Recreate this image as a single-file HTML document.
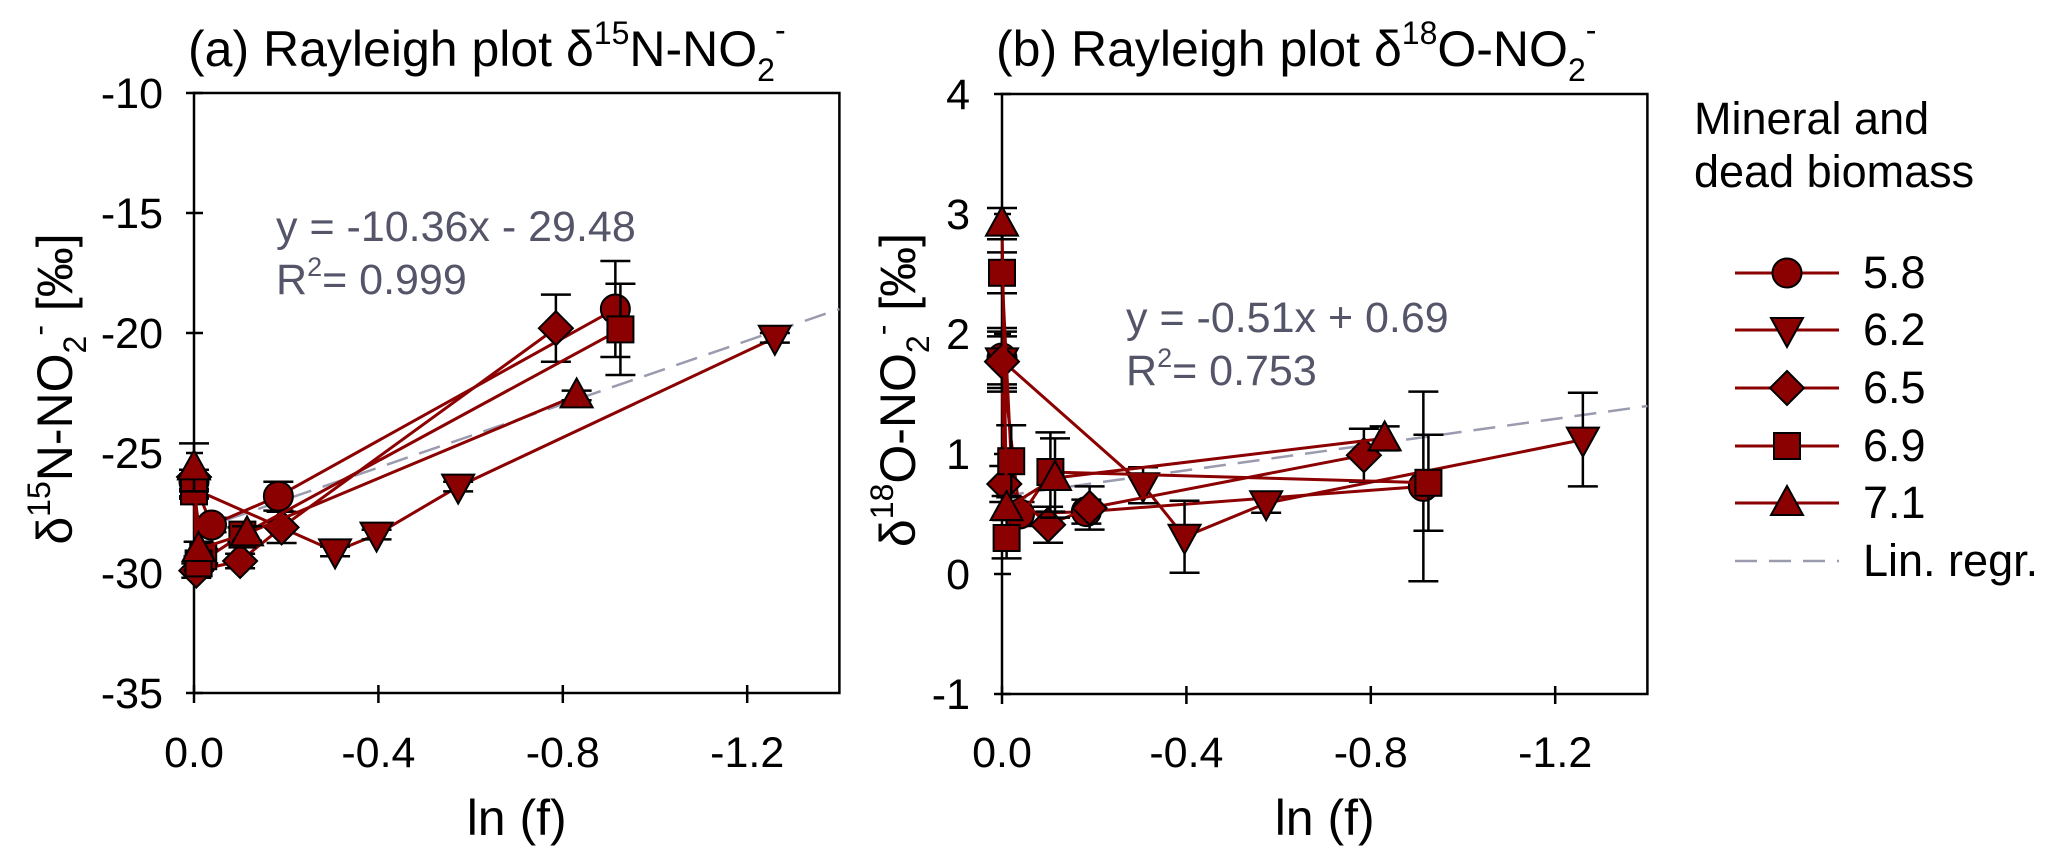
<!DOCTYPE html>
<html><head><meta charset="utf-8"><style>
html,body{margin:0;padding:0;background:#fff;}
svg{display:block;font-family:"Liberation Sans",Arial,sans-serif;}
</style></head><body>
<svg id="chart" width="2064" height="860" viewBox="0 0 2064 860" xmlns="http://www.w3.org/2000/svg">
<g id="pa"></g>
<g id="pb"></g>
<g id="legend"></g>
</svg>
<script>
// shared data
const seriesNames = ["5.8","6.2","6.5","6.9","7.1"];
const markerTypes = ["circle","tridown","diamond","square","triup"];
const ln58 = [0,-0.038,-0.183,-0.914];
const ln62 = [0,-0.306,-0.396,-0.573,-1.26];
const ln65 = [0,-0.005,-0.1,-0.19,-0.785];
const ln69 = [0,-0.02,-0.01,-0.105,-0.925];
const ln71 = [0,-0.01,-0.115,-0.83];
// panel a δ15N
const n58 = [-26.2,-28.0,-26.8,-19.0];
const n62 = [-26.5,-29.1,-28.4,-26.4,-20.2];
const n65 = [-26.0,-29.9,-29.5,-28.1,-19.8];
const n69 = [-26.6,-29.3,-29.6,-28.4,-19.85];
const n71 = [-25.6,-29.0,-28.35,-22.6];
const ne58 = [0.3,0.3,0.6,2.0];
const ne62 = [0.3,0.2,0.2,0.2,0.2];
const ne65 = [0.3,0.3,0.3,0.65,1.4];
const ne69 = [0.3,0.3,0.3,0.3,1.9];
const ne71 = [1.0,0.3,0.3,0.2];
// panel b δ18O
const o58 = [1.80,0.50,0.52,0.73];
const o62 = [1.78,0.74,0.31,0.59,1.12];
const o65 = [1.77,0.75,0.41,0.55,0.99];
const o69 = [2.51,0.94,0.30,0.85,0.76];
const o71 = [2.92,0.55,0.80,1.13];
const oe58 = [0.25,0.1,0.1,0.79];
const oe62 = [0.2,0.15,0.3,0.08,0.39];
const oe65 = [0.25,0.15,0.15,0.18,0.22];
const oe69 = [0.17,0.3,0.17,0.33,0.4];
const oe71 = [0.13,0.1,0.33,0.1];
const xTicks = [0,-0.4,-0.8,-1.2];
const xTickLabels = ["0.0","-0.4","-0.8","-1.2"];
const yTicksA = [-10,-15,-20,-25,-30,-35];
const yTicksB = [4,3,2,1,0,-1];
const regA = [[0,-28.25],[-1.4,-19.0]];
const regB = [[0,0.65],[-1.4,1.40]];

const NS="http://www.w3.org/2000/svg";
function mk(parent,tag,attrs){const e=document.createElementNS(NS,tag);for(const k in attrs)e.setAttribute(k,attrs[k]);parent.appendChild(e);return e;}
const RED="#8b0000";

function marker(g,type,cx,cy){
  let e;
  if(type==="circle"){e=mk(g,"circle",{cx:cx,cy:cy,r:14.5});}
  else if(type==="square"){e=mk(g,"rect",{x:cx-13,y:cy-13,width:26,height:26});}
  else if(type==="diamond"){e=mk(g,"polygon",{points:`${cx},${cy-17} ${cx+17},${cy} ${cx},${cy+17} ${cx-17},${cy}`});}
  else if(type==="triup"){e=mk(g,"polygon",{points:`${cx},${cy-17} ${cx+16},${cy+12} ${cx-16},${cy+12}`});}
  else {e=mk(g,"polygon",{points:`${cx},${cy+17} ${cx+16},${cy-12} ${cx-16},${cy-12}`});}
  e.setAttribute("fill",RED);e.setAttribute("stroke","#000");e.setAttribute("stroke-width","2");
  
  
  return e;
}

function drawPanel(gid,x0,yTop,yBot,yMax,yMin,yTicks,lnArr,valArr,errArr,reg,title,titleSup,ytitle,ytitleSup,eqn,r2,eqX,eqY,ytitleX,tickRight){
  const g=document.getElementById(gid);
  const ppu=461;
  const X=v=>x0-v*ppu;
  const Y=v=>yTop+(yMax-v)/(yMax-yMin)*(yBot-yTop);
  const xR=X(-1.4);
  const fr=mk(g,"rect",{x:x0,y:yTop,width:xR-x0,height:yBot-yTop,fill:"none",stroke:"#000","stroke-width":2.5});
  
  yTicks.forEach(t=>{
    const l=mk(g,"line",{x1:x0-8,x2:x0+9,y1:Y(t),y2:Y(t),stroke:"#000","stroke-width":2.5});
    
    const tx=mk(g,"text",{x:tickRight,y:Y(t)+15,"text-anchor":"end","font-size":43});
    tx.textContent=String(t);
    
  });
  xTicks.forEach((t,i)=>{
    const l=mk(g,"line",{x1:X(t),x2:X(t),y1:yBot-8,y2:yBot+10,stroke:"#000","stroke-width":2.5});
    
    const tx=mk(g,"text",{x:X(t),y:767,"text-anchor":"middle","font-size":43});
    tx.textContent=xTickLabels[i];
    
  });
  const xt=mk(g,"text",{x:(x0+xR)/2,y:835,"text-anchor":"middle","font-size":50});
  xt.textContent="ln (f)";
  
  const tt=mk(g,"text",{x:x0-6,y:66,"font-size":50});
  
  tt.innerHTML=title[0]+'<tspan font-size="32" dy="-22">'+titleSup+'</tspan><tspan dy="22">'+title[1]+'</tspan><tspan font-size="32" dy="15">2</tspan><tspan font-size="32" dy="-40">-</tspan>';
  const yt=mk(g,"text",{x:0,y:0,"font-size":50,"text-anchor":"middle",transform:`translate(${ytitleX},${(yTop+yBot)/2-4}) rotate(-90)`});
  
  yt.innerHTML='δ<tspan font-size="32" dy="-22">'+ytitleSup+'</tspan><tspan dy="22">'+ytitle+'</tspan><tspan font-size="32" dy="14">2</tspan><tspan font-size="32" dy="-36">-</tspan><tspan dy="22"> [‰]</tspan>';
  const rl=mk(g,"line",{x1:X(reg[0][0]),y1:Y(reg[0][1]),x2:X(reg[1][0]),y2:Y(reg[1][1]),stroke:"#9b9bb0","stroke-width":2.5,"stroke-dasharray":"22,12"});
  
  const e1=mk(g,"text",{x:eqX,y:eqY,"font-size":43,fill:"#55556a"});
  e1.textContent=eqn;
  const e2=mk(g,"text",{x:eqX,y:eqY+53,"font-size":43,fill:"#55556a"});
  e2.innerHTML='R<tspan font-size="27" dy="-18">2</tspan><tspan dy="18">= '+r2+'</tspan>';
  
  seriesNames.forEach((nm,si)=>{
    const sg=mk(g,"g",{});
    
    const ln=lnArr[si],v=valArr[si],er=errArr[si];
    const pts=ln.map((x,i)=>X(x)+","+Y(v[i])).join(" ");
    const pl=mk(sg,"polyline",{points:pts,fill:"none",stroke:RED,"stroke-width":3});
    
    ln.forEach((x,i)=>{
      const cx=X(x),t=Y(v[i]+er[i]),b=Y(v[i]-er[i]);
      const eb=mk(sg,"path",{d:`M${cx},${t}V${b}M${cx-15},${t}H${cx+15}M${cx-15},${b}H${cx+15}`,stroke:"#000","stroke-width":2.5,fill:"none"});
      
    });
    ln.forEach((x,i)=>marker(sg,markerTypes[si],X(x),Y(v[i])));
  });
}
const lnAll=[ln58,ln62,ln65,ln69,ln71];
drawPanel("pa",194,93,693,-10,-35,yTicksA,lnAll,[n58,n62,n65,n69,n71],[ne58,ne62,ne65,ne69,ne71],regA,
  ["(a) Rayleigh plot δ","N-NO"],"15","N-NO","15","y = -10.36x - 29.48","0.999",276,241,72,163);
drawPanel("pb",1002,94,694,4,-1,yTicksB,lnAll,[o58,o62,o65,o69,o71],[oe58,oe62,oe65,oe69,oe71],regB,
  ["(b) Rayleigh plot δ","O-NO"],"18","O-NO","18","y = -0.51x + 0.69","0.753",1126,332,915,970);

const lg=document.getElementById("legend");
const l1=mk(lg,"text",{x:1694,y:134,"font-size":45});l1.textContent="Mineral and";

const l2=mk(lg,"text",{x:1694,y:187,"font-size":45});l2.textContent="dead biomass";

const legY=[273,330,388,446,503];
seriesNames.forEach((nm,i)=>{
  const eg=mk(lg,"g",{});
  
  mk(eg,"line",{x1:1735,x2:1839,y1:legY[i],y2:legY[i],stroke:RED,"stroke-width":3});
  marker(eg,markerTypes[i],1787,legY[i]);
  const t=mk(eg,"text",{x:1863,y:legY[i]+15,"font-size":45});t.textContent=nm;
});
const rg=mk(lg,"g",{});

mk(rg,"line",{x1:1735,x2:1839,y1:561,y2:561,stroke:"#9b9bb0","stroke-width":2.5,"stroke-dasharray":"22,12"});
const rt=mk(rg,"text",{x:1863,y:576,"font-size":45});rt.textContent="Lin. regr.";
</script>
</body></html>
